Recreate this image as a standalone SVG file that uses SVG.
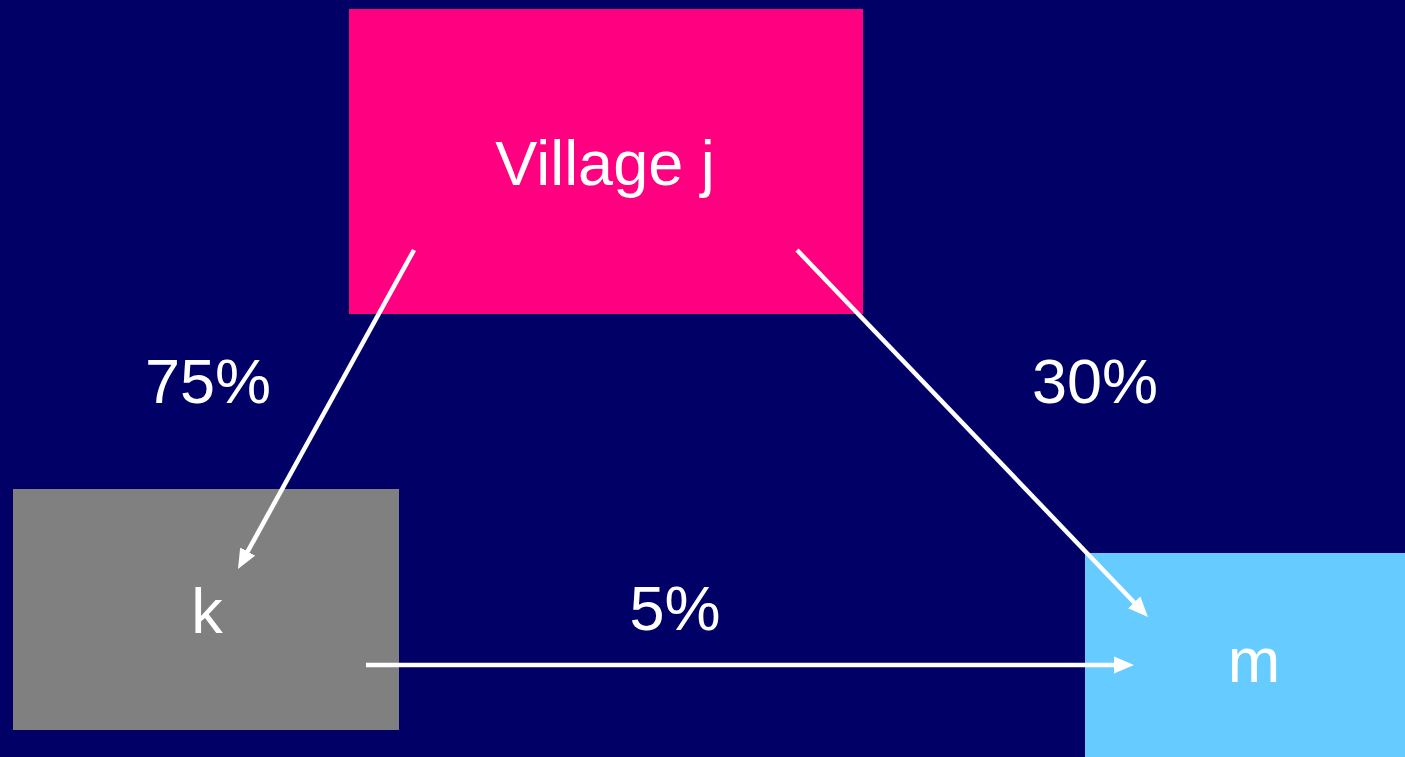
<svg xmlns="http://www.w3.org/2000/svg" width="1405" height="757" viewBox="0 0 1405 757">
  <style>
    .lbl { font-family: "Liberation Sans", Arial, sans-serif; font-size: 63px; fill: #ffffff; text-anchor: middle; }
    .conn { stroke: #ffffff; stroke-width: 4.5; fill: none; }
  </style>
  <defs>
    <marker id="arrow" markerUnits="userSpaceOnUse" markerWidth="20" markerHeight="18" viewBox="0 -9 20 18" refX="9" refY="0" orient="auto">
      <path d="M0,-8.5 L20,0 L0,8.5 z" fill="#ffffff"/>
    </marker>
  </defs>
  <rect x="0" y="0" width="1405" height="757" fill="#000066"/>
  <g id="node-village-j">
    <rect x="349" y="9" width="514" height="305" fill="#ff0080"/>
    <text class="lbl" x="605" y="185">Village j</text>
  </g>
  <g id="node-k">
    <rect x="13" y="489" width="386" height="241" fill="#808080"/>
    <text class="lbl" x="207" y="633">k</text>
  </g>
  <g id="node-m">
    <rect x="1085" y="553" width="320" height="204" fill="#66ccff"/>
    <text class="lbl" x="1254" y="682">m</text>
  </g>
  <g id="connectors">
    <line class="conn" x1="414" y1="250" x2="243.3" y2="559.4" marker-end="url(#arrow)"/>
    <line class="conn" x1="797" y1="250" x2="1140.4" y2="609.0" marker-end="url(#arrow)"/>
    <line class="conn" x1="366" y1="665" x2="1123" y2="665" marker-end="url(#arrow)"/>
  </g>
  <g id="labels">
    <text class="lbl" x="208" y="403">75%</text>
    <text class="lbl" x="1095" y="403">30%</text>
    <text class="lbl" x="675" y="630">5%</text>
  </g>
</svg>
